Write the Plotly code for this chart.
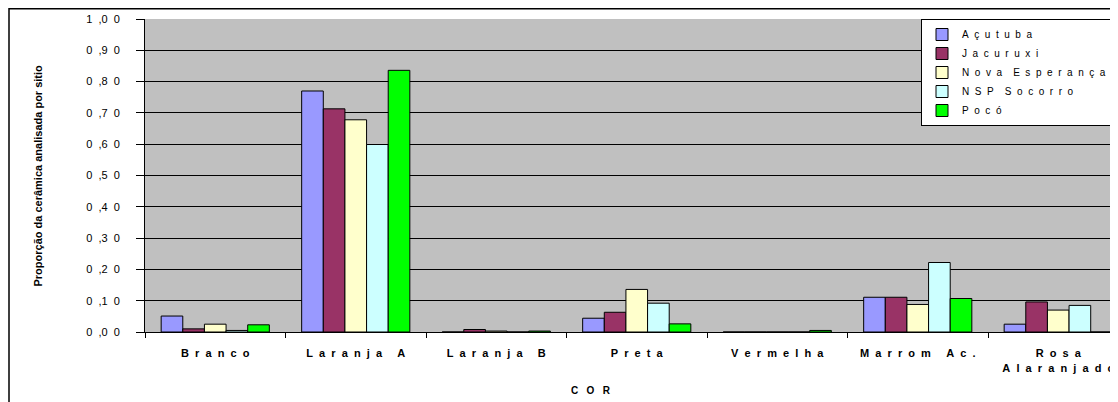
import plotly.graph_objects as go

# ==================== dados ====================
CATEGORIAS = ["Branco", "Laranja A", "Laranja B", "Preta",
              "Vermelha", "Marrom Ac.", "Rosa\nAlaranjado"]

SITIOS = ["Açutuba", "Jacuruxi", "Nova Esperança", "NSP Socorro", "Pocó"]

ACUTUBA = [0.051, 0.770, 0.000, 0.044, 0.000, 0.111, 0.025]
JACURUXI = [0.010, 0.713, 0.008, 0.063, 0.000, 0.111, 0.096]
NOVA_ESPERANCA = [0.025, 0.678, 0.003, 0.136, 0.000, 0.088, 0.070]
NSP_SOCORRO = [0.005, 0.599, 0.000, 0.092, 0.000, 0.222, 0.085]
POCO = [0.023, 0.836, 0.003, 0.026, 0.005, 0.107, 0.000]

Y_TICKS = [0.0, 0.1, 0.2, 0.3, 0.4, 0.5, 0.6, 0.7, 0.8, 0.9, 1.0]
Y_TICK_LABELS = ["0 ,0 0", "0 ,1 0", "0 ,2 0", "0 ,3 0", "0 ,4 0", "0 ,5 0",
                 "0 ,6 0", "0 ,7 0", "0 ,8 0", "0 ,9 0", "1 ,0 0"]

CORES = ["#9999FF", "#993366", "#FFFFCC", "#CCFFFF", "#00FF00"]
# ===============================================

NB = "\u00a0"


def espacar(texto, n=2, palavra=5):
    """imita o espaçamento largo entre letras do grafico original"""
    linhas = []
    for linha in texto.split("\n"):
        palavras = [(NB * n).join(list(p)) for p in linha.split(" ")]
        linhas.append((NB * palavra).join(palavras))
    return "<br>".join(linhas)


def espacar_tick(t):
    return t.replace(" ", NB * 2)


# a página html tem margem de 8px no body, por isso a figura é 8px menor
W, H = 1110, 394
L, R, T, B = 137, 0, 11, 70
PW = W - L - R
PH = H - T - B
FONTE = "Liberation Sans, Arial, sans-serif"

pos = list(range(len(CATEGORIAS)))
series = [ACUTUBA, JACURUXI, NOVA_ESPERANCA, NSP_SOCORRO, POCO]

fig = go.Figure()
for nome, valores, cor in zip(SITIOS, series, CORES):
    fig.add_trace(go.Bar(
        x=pos, y=valores, name=espacar(nome, n=2, palavra=4),
        marker=dict(color=cor, line=dict(color="black", width=1)),
    ))

# a ultima categoria fica cortada na borda direita
x_max = -0.5 + PW / 140.5

fig.update_layout(
    width=W, height=H,
    margin=dict(l=L, r=R, t=T, b=B),
    paper_bgcolor="white",
    plot_bgcolor="#C0C0C0",
    barmode="group",
    bargap=0.23,
    bargroupgap=0,
    font=dict(family=FONTE, size=10, color="black"),
    showlegend=True,
    legend=dict(
        x=(913 - L) / PW, y=1.0, xanchor="left", yanchor="top",
        bgcolor="white", bordercolor="black", borderwidth=1,
        font=dict(size=10, family=FONTE),
        tracegroupgap=0, itemwidth=30,
    ),
    xaxis=dict(
        range=[-0.5, x_max],
        tickvals=pos, ticktext=[espacar(c) for c in CATEGORIAS],
        ticks="outside", ticklen=8, tickcolor="rgba(0,0,0,0)",
        ticklabelstandoff=3,
        tickfont=dict(size=11, family=FONTE, weight="bold"),
        showgrid=False, zeroline=False,
        showline=True, linecolor="black", linewidth=1,
    ),
    xaxis2=dict(
        overlaying="x", side="bottom", anchor="y",
        range=[-0.5, x_max],
        tickvals=[p - 0.5 for p in pos] + [len(pos) - 0.5],
        ticktext=[""] * (len(pos) + 1),
        ticks="outside", ticklen=5, tickcolor="black",
        showgrid=False, zeroline=False, showline=False,
    ),
    yaxis=dict(
        range=[0, 1.0],
        tickvals=Y_TICKS, ticktext=[espacar_tick(t) for t in Y_TICK_LABELS],
        ticks="outside", ticklen=8, tickcolor="black",
        ticklabelstandoff=14,
        tickfont=dict(size=11, family=FONTE),
        showgrid=True, gridcolor="black", gridwidth=1,
        zeroline=False, showline=True, linecolor="black", linewidth=1,
    ),
)

# traço invisível só para ativar o eixo x2
fig.add_trace(go.Scatter(x=[0], y=[0], xaxis="x2", mode="markers",
                         marker=dict(opacity=0), showlegend=False,
                         hoverinfo="skip"))

fig.add_annotation(
    text="<b>" + espacar("COR", n=3) + "</b>", xref="paper", yref="paper",
    x=(583 - L) / PW, y=-(383 - (H - B)) / PH, yanchor="middle",
    showarrow=False, font=dict(size=10, family=FONTE),
)
fig.add_annotation(
    text="<b>Proporção da cerâmica analisada por sitio</b>",
    xref="paper", yref="paper", textangle=-90,
    x=(21 - L) / PW, y=0.5,
    showarrow=False, font=dict(size=11, family=FONTE),
)

# moldura externa do grafico
fig.add_shape(
    type="rect", xref="paper", yref="paper",
    x0=(1 - L) / PW, x1=1.05,
    y0=-0.3, y1=(H - B - 0.75) / PH,
    line=dict(color="black", width=1.5), layer="below",
)

fig.write_html("out.html")
